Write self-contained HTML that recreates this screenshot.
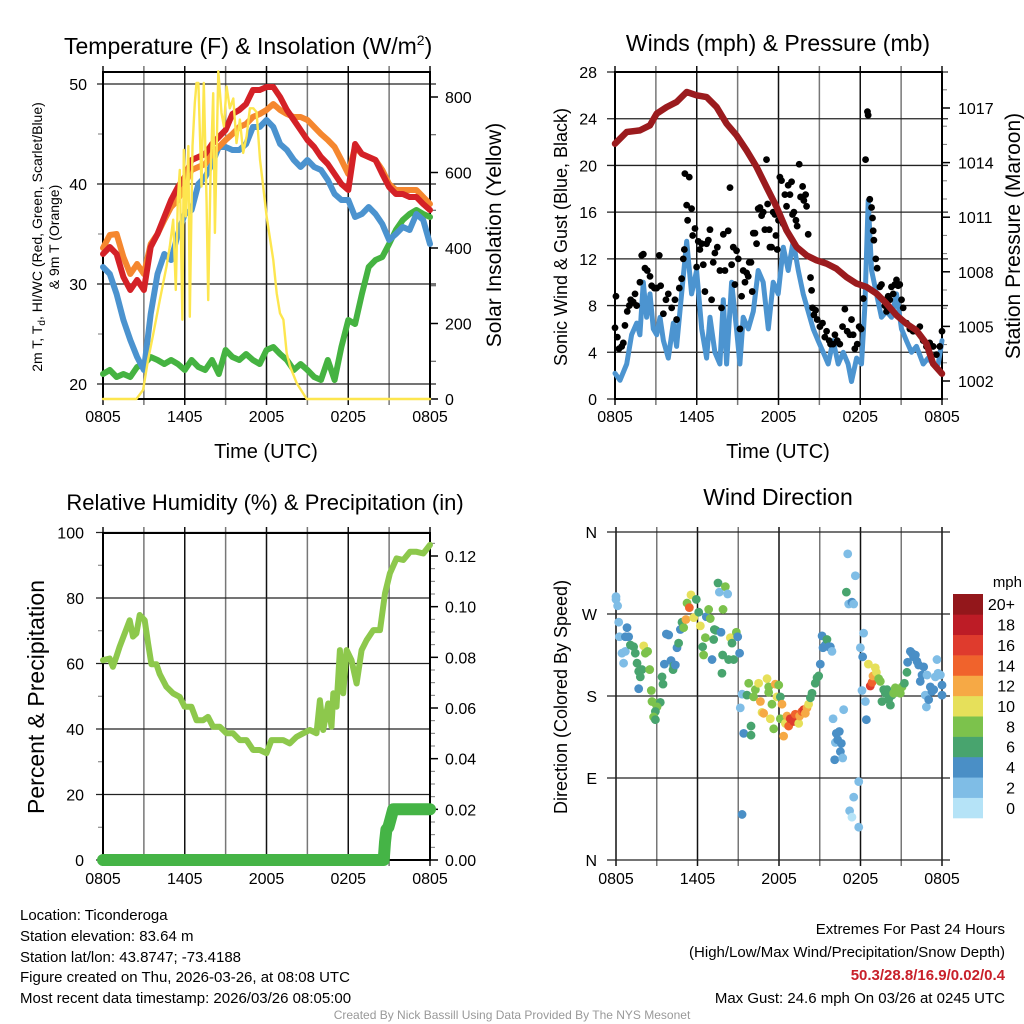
<!DOCTYPE html>
<html><head><meta charset="utf-8"><style>
html,body{margin:0;padding:0;background:#fff}
svg{display:block;font-family:"Liberation Sans",Arial,sans-serif}
</style></head><body>
<svg id="chart" width="1024" height="1024" viewBox="0 0 1024 1024" xmlns="http://www.w3.org/2000/svg">
<rect x="0" y="0" width="1024" height="1024" fill="#fff"/>
<g id="layer"></g>
<g font-size="15" fill="#000">
<text x="20" y="920">Location: Ticonderoga</text>
<text x="20" y="941">Station elevation: 83.64 m</text>
<text x="20" y="962">Station lat/lon: 43.8747; -73.4188</text>
<text x="20" y="982">Figure created on Thu, 2026-03-26, at 08:08 UTC</text>
<text x="20" y="1003">Most recent data timestamp: 2026/03/26 08:05:00</text>
<text x="1005" y="934" text-anchor="end">Extremes For Past 24 Hours</text>
<text x="1005" y="957" text-anchor="end">(High/Low/Max Wind/Precipitation/Snow Depth)</text>
<text x="1005" y="980" text-anchor="end" fill="#c8202a" font-weight="bold">50.3/28.8/16.9/0.02/0.4</text>
<text x="1005" y="1003" text-anchor="end">Max Gust: 24.6 mph On 03/26 at 0245 UTC</text>
<text x="512" y="1019" text-anchor="middle" font-size="12" fill="#999">Created By Nick Bassill Using Data Provided By The NYS Mesonet</text>
</g>
</svg>
<script>
// ---------- Panel 1 data ----------
const hours = [0,0.5,1,1.5,2,2.5,3,3.5,4,4.5,5,5.5,6,6.5,7,7.5,8,8.5,9,9.5,10,10.5,11,11.5,12,12.5,13,13.5,14,14.5,15,15.5,16,16.5,17,17.5,18,18.5,19,19.5,20,20.5,21,21.5,22,22.5,23,23.5,24];
const tempRed = [33,33.7,33,30.7,29.4,30.4,29.4,33.7,35,36.7,38.4,39.7,40.7,42.4,42.7,43,44,44.7,45.4,47,47.4,48,49.4,49.4,49.7,49.7,48.7,47.4,46.4,45.4,44.4,43.7,42.7,42,41,40,39.4,44,43,42.7,42.4,41,39.7,39,39,38.7,38.7,38,37.4];
const temp9m = [33.6,34.9,35,32.7,31,32,31,34,35,36.4,37.7,38.4,40,41.4,41.7,42,43,43.7,44.4,45,45.7,46,46.7,47,47.4,48,47.4,47,46.7,46.7,46.4,45.7,45,44.4,43.7,42.4,41,43.7,43,42.7,42.4,41.4,40,39.4,39.4,39.4,39.4,38.7,38];
const tempBlue = [31.7,31,29,26.4,24.4,22.7,21.4,27,31,33,32.4,35,37,37.4,40,40.7,42,43.7,43.7,43.4,43.4,44,45.7,45.7,46.4,45.7,44,43.4,42.4,41.7,42.4,41.7,41.4,40.4,39,38.4,38.4,36.7,37,37.7,37,36,34.4,35,35.7,35.4,37,36.4,34];
const tempGreen = [21,21.4,20.7,21,20.7,21.7,22,22.7,22.4,22,22.4,22,21.4,22.4,21.7,21.4,22.4,21,23.4,22.7,22.4,23,22.4,22,23.4,23.7,23,22.4,21.4,22,21.4,20.7,20.4,22.4,20.4,23.7,26.4,26,29,31.7,32.4,32.7,34,35.4,36.4,37,37.4,37,36.7];
const solarHours = [0,2.45,2.94,3.3,3.68,4.17,4.66,4.9,5.15,5.34,5.49,5.64,5.83,5.93,6.08,6.27,6.37,6.57,6.74,6.86,7.0,7.23,7.4,7.6,7.72,7.89,8.09,8.21,8.46,8.7,8.87,9.07,9.31,9.56,9.8,10.05,10.29,10.54,10.78,11.03,11.27,11.52,11.76,12.01,12.5,12.75,12.99,13.24,13.48,13.73,14.22,14.95,24];
const solarVals = [0,0,24,103,170,262,351,404,475,289,528,607,210,660,484,670,218,670,784,837,837,563,837,519,262,590,810,440,868,758,722,828,770,796,678,740,652,696,770,770,760,634,563,484,368,280,227,210,121,86,42,0,0];
const p1TempTicks = [20,30,40,50];
const p1SolarTicks = [0,200,400,600,800];
const timeTickHours = [0,6,12,18,24];
const timeTickLabels = ["0805","1405","2005","0205","0805"];
// ---------- Panel 2 data ----------
const presHours = [0,0.86,1.83,2.57,3.06,3.79,4.52,5.26,5.99,6.72,7.46,8.19,8.92,9.66,10.39,11.12,11.86,12.59,13.33,14.06,14.79,15.53,16.26,16.99,17.73,18.46,19.19,19.93,20.66,21.39,22.13,22.86,23.35,24];
const presVals = [1015.04,1015.68,1015.77,1016.05,1016.69,1017.05,1017.33,1017.88,1017.7,1017.6,1017.05,1016.14,1015.5,1014.67,1013.76,1012.66,1011.56,1010.28,1009.36,1008.9,1008.63,1008.45,1008.17,1007.71,1007.35,1007.17,1006.8,1006.25,1005.61,1005.15,1004.78,1004.05,1002.95,1002.4];
const windHours = [0,0.37,0.86,1.22,1.59,1.83,2.08,2.32,2.57,2.81,3.06,3.3,3.55,3.91,4.28,4.52,4.89,5.26,5.62,5.99,6.36,6.72,6.97,7.33,7.7,7.95,8.19,8.56,8.92,9.17,9.41,9.78,10.15,10.51,10.88,11.25,11.61,11.98,12.35,12.71,13.08,13.45,13.81,14.18,14.55,14.91,15.28,15.65,16.01,16.38,16.75,17.11,17.36,17.73,18.09,18.34,18.58,18.83,19.19,19.56,19.93,20.29,20.66,21.03,21.39,21.76,22.13,22.62,22.98,23.35,23.72,24];
const windVals = [2.2,1.6,3,5.5,6.5,5.5,10,7,9,6,5.5,7,5,3.5,6.5,4.5,9,13.5,9,11,6,3.5,7,4,3,8.5,3,10,6,3,7,6,7.5,11,10,6,10,9,13,11,13.5,11,9,7.5,6,5,4,3,5,3,4,3,1.5,3.5,3,8,17,11,9,7,7.5,7,9,6,5,4,4.5,3,3.5,3,3,5];
const gustHours = [0,0.07,0.17,0.29,0.49,0.61,0.73,0.9,1.05,1.15,1.34,1.47,1.59,1.83,1.96,2.08,2.2,2.37,2.57,2.69,2.89,3.06,3.25,3.35,3.55,3.74,3.91,4.16,4.4,4.52,4.72,4.89,5.01,5.09,5.13,5.26,5.33,5.45,5.62,5.7,5.87,5.99,6.11,6.23,6.36,6.48,6.6,6.72,6.85,6.97,7.09,7.21,7.33,7.51,7.7,7.82,7.95,8.07,8.31,8.44,8.56,8.68,8.8,8.92,9.05,9.17,9.29,9.41,9.54,9.66,9.78,9.85,9.98,10.07,10.15,10.27,10.39,10.51,10.64,10.76,10.88,11,11.12,11.2,11.32,11.37,11.49,11.61,11.74,11.81,11.91,12,12.1,12.22,12.35,12.47,12.59,12.71,12.84,12.96,13.03,13.13,13.28,13.37,13.52,13.62,13.77,13.86,13.99,14.06,14.18,14.35,14.43,14.5,14.6,14.72,14.84,15.04,15.23,15.4,15.53,15.72,15.82,16.01,16.14,16.31,16.5,16.7,16.87,17.04,17.24,17.36,17.48,17.6,17.78,17.92,18.07,18.22,18.39,18.53,18.58,18.7,18.83,18.9,18.95,19,19.14,19.24,19.44,19.56,19.68,19.8,19.93,20.05,20.17,20.29,20.42,20.54,20.66,20.78,20.9,21.03,21.15,21.39,21.64,21.88,22.13,22.37,22.62,22.86,23.1,23.35,23.59,23.84,24];
const gustVals = [6.1,8.8,5.3,4.3,4.5,4.8,6.3,7.5,8,8.5,8.3,9,8,10,12.3,12.4,11.2,11,10.5,9.7,9.5,9.5,12.3,9.7,7.3,8.5,9,7.8,8.5,6.8,9.5,10.3,12,12.8,19.3,16.6,15.3,19,16.3,14,14.6,11.3,13.5,12.8,13.3,11.5,9.2,13.3,13.6,14.5,8.5,11.7,12.5,13,11,7.8,14.1,11,14.4,18.1,11.5,13,9.8,12.7,12,6,8.8,11,10,10.8,10.5,11.7,11.7,9.2,14.2,14.2,13.3,16.3,16.4,15.7,16,14.5,20.5,16.7,14.5,13,13,16,15.8,14,12.8,15.3,19,18.7,15,17.5,16.5,18.3,17.5,18.6,15.8,16,15.3,14.8,20.1,17.3,18.2,17,17.5,16.5,14.1,10.4,9.3,7.8,7.2,7.6,6.8,6.2,6.5,5.3,5.8,5,4.7,4.7,5.5,5,4.7,6.2,7.7,5.8,5.5,6.8,5.5,4.3,4.7,6.2,6,8.6,20.5,24.6,24.3,17.1,16.4,15.5,14.4,13.6,12,11.2,9.6,9.8,8.5,8,7.5,8.8,8.5,9.6,9,9.8,10.2,9.7,9.8,8.5,7.8,6.5,6,5.8,5.8,6.2,5,4.5,4.8,4.5,3.8,4.5,5.8];
const windTicks = [0,4,8,12,16,20,24,28];
const presTicks = [1002,1005,1008,1011,1014,1017];
// ---------- Panel 3 data ----------
const rhHours = [0,0.49,0.73,0.98,1.22,1.59,1.96,2.2,2.45,2.69,3.06,3.31,3.55,3.92,4.16,4.65,5.14,5.63,5.99,6.49,6.86,7.35,7.71,8.08,8.57,9.06,9.55,10.04,10.53,11.02,11.51,12,12.37,12.74,13.22,13.71,14.2,14.69,15.18,15.67,15.92,16.16,16.53,16.77,16.9,17.14,17.39,17.63,17.88,18.24,18.61,18.98,19.35,19.84,20.33,20.7,21.06,21.55,22.04,22.53,23.02,23.51,24];
const rhVals = [61,61.5,59,62.1,65.1,69.2,73.2,68.2,69.2,74.8,73.2,66.1,59.8,59.8,56.8,52.9,50.9,49.8,46.8,46.8,42.7,42.7,43.7,40.7,40.7,38.7,38.7,36.6,36.6,33.6,33.6,32.6,36.6,36.6,36.6,35.6,37.6,38.7,39.7,38.7,48.8,39.7,47.8,40.7,50.9,46.8,64.1,50.9,64.1,61,53.9,64.1,67.1,70.2,70.2,81.4,87.5,92.1,91.6,94.1,94.1,93.6,96.2];
const precipHours = [0,20.6,20.7,20.8,20.95,21.1,21.3,24];
const precipVals = [0,0,0.007,0.012,0.013,0.016,0.02,0.02];
const rhTicks = [0,20,40,60,80,100];
const precipTicks = [0,0.02,0.04,0.06,0.08,0.10,0.12];
// ---------- Panel 4 data ----------
const dirHours = [0,0,0.12,0.2,0.25,0.44,0.56,0.69,0.81,0.69,0.93,1.06,1.3,1.42,1.55,1.67,1.79,1.91,2.04,2.16,2.33,2.48,2.6,1.67,2.65,2.9,3.26,3.02,2.9,2.77,2.9,3.39,3.46,3.56,3.71,3.88,4.05,4.2,4.25,4.37,4.49,4.61,4.74,4.86,4.98,5.15,5.23,5.4,5.52,5.72,5.91,6.09,6.21,6.38,6.45,6.58,6.65,6.82,6.94,7.07,7.19,7.24,7.36,7.51,7.61,7.73,7.88,7.8,7.85,8.05,8.22,8.29,8.42,8.54,8.66,8.86,8.96,9.1,9.15,9.28,9.4,9.28,9.64,9.77,9.94,9.94,10.13,10.26,10.5,10.63,10.75,10.87,11.12,11.24,11.24,11.36,11.48,11.61,11.73,11.85,11.98,12.1,12.1,12.22,12.34,12.47,12.59,12.71,12.83,13.08,13.2,13.45,13.52,13.69,13.82,13.94,14.06,14.18,14.31,14.43,14.67,14.8,14.92,15.04,15.17,15.24,15.41,15.53,15.66,15.78,15.9,15.98,16.1,16.15,16.22,16.32,16.44,16.52,16.59,16.69,16.76,16.96,17.06,17.13,17.37,17.5,17.62,17.87,17.5,17.2,17.37,17.87,17.99,18.11,18.16,18.23,18.36,18.43,18.58,18.72,18.85,18.92,19.09,19.17,19.34,19.46,19.58,19.71,19.83,19.95,20.07,20.2,20.32,20.44,20.56,20.69,20.93,21.06,21.23,21.42,21.47,21.67,21.79,21.91,22.04,22.16,22.28,22.4,22.53,22.65,22.77,22.9,22.85,23.02,23.14,23.26,23.39,23.51,23.63,23.71,23.88,24,24];
const dirDegrees = [289,286,279,261,245,227,216,229,255,245,245,236,234,227,216,207,201,209,235,227,229,209,186,188,174,172,173,168,163,157,154,201,193,215,248,247,219,209,213,214,233,238,253,261,255,264,282,277,291,266,286,272,257,234,225,244,267,275,265,220,242,253,252,304,294,250,275,205,225,300,292,220,244,238,220,250,245,227,167,182,139,50,181,194,147,137,179,187,194,174,162,161,199,190,184,155,171,144,193,179,192,179,155,171,136,150,158,147,155,152,160,150,158,163,165,161,167,171,178,183,194,200,202,215,246,233,236,242,234,234,229,155,110,129,139,132,141,119,128,112,165,294,336,281,283,281,312,86,69,54,47,36,233,186,223,249,174,154,215,191,195,202,211,206,199,196,174,187,183,187,176,170,181,183,189,187,183,190,194,206,217,229,227,223,225,218,214,196,203,212,181,203,168,176,190,185,187,201,220,205,203,192,181];
const dirSpeeds = [2,2,2,2,2,2,2,2,4,4,4,6,6,6,6,6,6,6,10,8,8,8,8,4,8,8,6,8,6,8,6,6,6,4,4,4,4,6,6,4,4,6,4,6,8,12,8,14,10,10,6,6,10,6,8,8,4,8,8,4,6,6,6,6,2,4,8,6,6,8,2,6,10,6,6,8,4,4,2,2,4,4,6,8,6,6,8,8,10,12,10,12,10,8,8,10,8,8,12,10,8,6,8,12,12,10,12,14,16,16,14,10,12,14,16,12,12,10,6,6,6,6,6,4,4,4,4,6,4,4,2,2,4,2,4,4,4,4,4,2,2,6,2,2,4,2,2,2,2,2,0,2,2,2,4,2,2,4,10,16,14,12,10,10,8,8,6,6,6,6,6,6,6,8,8,8,8,8,6,6,4,4,4,4,4,4,4,4,4,4,2,2,2,4,4,4,4,2,2,2,2,4,4];
const speedBins = ["0","2","4","6","8","10","12","14","16","18","20+"];
const speedColors = ["#b5e3f7","#7fbde6","#4a8fc6","#48a46e","#7cc24c","#e6e05a","#f6a945","#f0632c","#df3b2d","#bd1c26","#93171b"];
const dirTickDegrees = [0,90,180,270,360];
const dirTickLabels = ["N","E","S","W","N"];

// ---------- helpers ----------
const NS = "http://www.w3.org/2000/svg";
const root = document.getElementById('layer');
function mk(tag, attrs, parent){
  const e = document.createElementNS(NS, tag);
  for (const k in attrs) e.setAttribute(k, attrs[k]);
  (parent || root).appendChild(e);
  return e;
}
function txt(str, x, y, size, anchor, parent, extra){
  const t = mk('text', Object.assign({x:x, y:y, 'font-size':size, 'text-anchor':anchor||'start', fill:'#000'}, extra||{}), parent);
  t.textContent = str;
  return t;
}
function poly(xs, ys, fx, fy, stroke, width, parent){
  const pts = xs.map((h,i)=> fx(h).toFixed(1)+','+fy(ys[i]).toFixed(1)).join(' ');
  return mk('polyline', {points:pts, fill:'none', stroke:stroke, 'stroke-width':width, 'stroke-linejoin':'round', 'stroke-linecap':'round'}, parent);
}
function vgrid(fx, y0, y1, parent){
  for (let h=0; h<=24; h+=3){
    const l = mk('line', {x1:fx(h), x2:fx(h), y1:y0-6, y2:y1+6, stroke:(h%6===0)?'#111':'#777', 'stroke-width':1.5}, parent);
    
    
  }
}
function xLabels(fx, y, parent){
  timeTickHours.forEach((h,i)=>{
    const t = txt(timeTickLabels[i], fx(h), y, 16, 'middle', parent);
    
    
  });
}
function hline(y, x0, x1, parent, color){
  const l = mk('line', {x1:x0, x2:x1, y1:y, y2:y, stroke:color||'#222', 'stroke-width':1.3}, parent);
  
  
}
function frame(x0,y0,x1,y1,parent){
  const r = mk('rect', {x:x0, y:y0, width:x1-x0, height:y1-y0, fill:'none', stroke:'#000', 'stroke-width':2}, parent);
  
  
}

// ---------- Panel 1 ----------
const g1 = mk('g', {});


const x1 = h => 103 + h*(327/24);
const yT = v => 384 - (v-20)*10;
const yS = v => 399 - v*0.3775;
vgrid(x1, 72, 399, g1);
p1TempTicks.forEach(v=>{
  hline(yT(v), 97, 436, g1);
  const t = txt(String(v), 87, yT(v)+6, 16, 'end', g1);
  
  
});
[25,35,45].forEach(v=>{ mk('line',{x1:98,x2:103,y1:yT(v),y2:yT(v),stroke:'#777'},g1); });
for (let v=100; v<=800; v+=100){ mk('line',{x1:430,x2:436,y1:yS(v),y2:yS(v),stroke:'#444'},g1); }
p1SolarTicks.forEach(v=>{
  mk('line',{x1:430,x2:438,y1:yS(v),y2:yS(v),stroke:'#000','stroke-width':1.5},g1);
  const t = txt(String(v), 445, yS(v)+6, 16, 'start', g1);
  
  
});
frame(103,72,430,399,g1);
const sGreen = poly(hours, tempGreen, x1, yT, '#45b341', 6, g1);


const sBlue = poly(hours, tempBlue, x1, yT, '#4b93cf', 6, g1);


const sOr = poly(hours, temp9m, x1, yT, '#f5872f', 6, g1);


const sRed = poly(hours, tempRed, x1, yT, '#d42127', 6, g1);


const sSol = poly(solarHours, solarVals, x1, yS, '#fde64f', 2.4, g1);


xLabels(x1, 422, g1);
const t1 = txt('Temperature (F) & Insolation (W/m', 64, 54, 23, 'start', g1);
const sup = mk('tspan', {'font-size':14, dy:-9}, t1); sup.textContent='2';
const close1 = mk('tspan', {dy:9}, t1); close1.textContent=')';


const xt1 = txt('Time (UTC)', 266, 458, 20, 'middle', g1);


const ya1 = txt('', 0, 0, 14, 'middle', g1, {transform:'translate(42,237) rotate(-90)'});
ya1.innerHTML = '2m T, T<tspan font-size="10" dy="3">d</tspan><tspan dy="-3">, HI/WC (Red, Green, Scarlet/Blue)</tspan>';


const ya1b = txt('& 9m T (Orange)', 0, 0, 14, 'middle', g1, {transform:'translate(59,237) rotate(-90)'});


const yr1 = txt('Solar Insolation (Yellow)', 0, 0, 21, 'middle', g1, {transform:'translate(501,235) rotate(-90)'});



// ---------- Panel 2 ----------
const g2 = mk('g', {});


const x2 = h => 615 + h*(327/24);
const yW = v => 399 - v*(327/28);
const yP = p => 381 - (p-1002)*(273/15);
vgrid(x2, 72, 399, g2);
windTicks.forEach(v=>{
  hline(yW(v), 607, 948, g2);
  const t = txt(String(v), 597, yW(v)+6, 16, 'end', g2);
  
  
});
for (let p=1001; p<=1019; p+=1){ mk('line',{x1:942,x2:947,y1:yP(p),y2:yP(p),stroke:'#777'},g2); }
presTicks.forEach(p=>{
  mk('line',{x1:942,x2:950,y1:yP(p),y2:yP(p),stroke:'#000','stroke-width':1.5},g2);
  const t = txt(String(p), 958, yP(p)+6, 16, 'start', g2);
  
  
});
frame(615,72,942,399,g2);
const wl = poly(windHours, windVals, x2, yW, '#4c94d0', 5, g2);


const gg = mk('g', {fill:'#000'}, g2);


gustHours.forEach((h,i)=>{
  const c = mk('circle', {cx:x2(h), cy:yW(gustVals[i]), r:3.4}, gg);
  
  
});
const pl = poly(presHours, presVals, x2, yP, '#9b1b1e', 6.5, g2);


xLabels(x2, 422, g2);
const t2 = txt('Winds (mph) & Pressure (mb)', 778, 51, 23, 'middle', g2);


const xt2 = txt('Time (UTC)', 778, 458, 20, 'middle', g2);


const ya2 = txt('Sonic Wind & Gust (Blue, Black)', 0, 0, 18, 'middle', g2, {transform:'translate(567,237) rotate(-90)'});


const yr2 = txt('Station Pressure (Maroon)', 0, 0, 21, 'middle', g2, {transform:'translate(1020,236) rotate(-90)'});



// ---------- Panel 3 ----------
const g3 = mk('g', {});


const x3 = h => 103 + h*(327/24);
const yR = v => 860 - v*3.275;
const yPr = v => 860 - v*(304/0.12);
vgrid(x3, 533, 860, g3);
rhTicks.forEach(v=>{
  hline(yR(v), 96, 430, g3);
  const t = txt(String(v), 84, yR(v)+6, 16, 'end', g3);
  
  
});
[10,30,50,70,90].forEach(v=>{ mk('line',{x1:98,x2:103,y1:yR(v),y2:yR(v),stroke:'#777'},g3); });
for (let v=0.005; v<0.13; v+=0.005){ mk('line',{x1:430,x2:435,y1:yPr(v),y2:yPr(v),stroke:'#777'},g3); }
precipTicks.forEach(v=>{
  mk('line',{x1:430,x2:438,y1:yPr(v),y2:yPr(v),stroke:'#000','stroke-width':1.5},g3);
  const t = txt(v.toFixed(2), 445, yPr(v)+6, 16, 'start', g3);
  
  
});
frame(103,533,430,860,g3);
const rl = poly(rhHours, rhVals, x3, yR, '#8dc84c', 6, g3);


const prl = poly(precipHours, precipVals, x3, yPr, '#45b446', 12, g3);


xLabels(x3, 884, g3);
const t3 = txt('Relative Humidity (%) & Precipitation (in)', 265, 510, 22, 'middle', g3);


const ya3 = txt('Percent & Precipitation', 0, 0, 23, 'middle', g3, {transform:'translate(44,697) rotate(-90)'});



// ---------- Panel 4 ----------
const g4 = mk('g', {});


const x4 = h => 616 + h*(326/24);
const yD = d => 860 - d*(328/360);
vgrid(x4, 533, 860, g4);
dirTickDegrees.forEach((d,i)=>{
  hline(yD(d), 607, 950, g4);
  const t = txt(dirTickLabels[i], 597, yD(d)+6, 16, 'end', g4);
  
  
});
const dg = mk('g', {}, g4);


dirHours.forEach((h,i)=>{
  const idx = Math.min(10, Math.round(dirSpeeds[i]/2));
  const c = mk('circle', {cx:x4(h), cy:yD(dirDegrees[i]), r:4.4, fill:speedColors[idx]}, dg);
  
  
});
xLabels(x4, 884, g4);
const t4 = txt('Wind Direction', 778, 505, 23, 'middle', g4);


const ya4 = txt('Direction (Colored By Speed)', 0, 0, 18, 'middle', g4, {transform:'translate(567,697) rotate(-90)'});


const cb = mk('g', {}, g4);


const boxH = (818-594)/speedBins.length;
speedBins.forEach((lab,i)=>{
  const y = 818 - (i+1)*boxH;
  const r = mk('rect', {x:953, y:y, width:30, height:boxH+0.3, fill:speedColors[i]}, cb);
  
  
  const t = txt(lab, 1015, y+boxH/2+6, 16, 'end', cb);
  
  
});
const mph = txt('mph', 1022, 587, 15, 'end', cb);


</script>
</body></html>
